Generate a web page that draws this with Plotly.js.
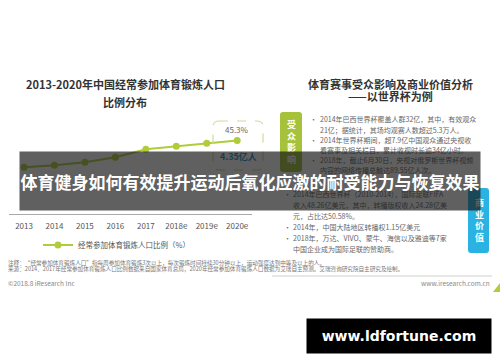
<!DOCTYPE html>
<html><head><meta charset="utf-8">
<script src="https://cdn.plot.ly/plotly-3.0.1.min.js"></script>
<style>html,body{margin:0;padding:0;background:#fff;}#chart{width:500px;height:362px;}</style>
</head><body><div id="chart"></div>
<script>
// ---- data ----
var years = ['2013','2014','2015','2016','2017','2018e','2019e','2020e'];
var ratio = [33.0, 33.9, 35.3, 37.6, 41.3, 42.7, 44.0, 45.3];
var ratioLabels = ['', '33.9%', '', '', '41.3%', '', '', '45.3%'];
var seriesName = '经常参加体育锻炼人口比例（%）';
var leftTitle = ['2013-2020年中国经常参加体育锻炼人口', '比例分布'];
var highlightText = '4.35亿人';
var rightTitle = ['体育赛事受众影响及商业价值分析', '——以世界杯为例'];
var audienceLines = [
  ['•', '2014年巴西世界杯覆盖人群32亿，其中，有效观众'],
  ['',  '21亿；据统计，其场均观赛人数超过5.3万人。'],
  ['•', '2014年世界杯期间，超7.9亿中国观众通过央视收'],
  ['',  '看赛事及相关栏目，累计收视时长逾34亿小时。'],
  ['•', '2018年，截止6月30日，央视对俄罗斯世界杯视频'],
  ['',  '内容的网络传播总触达89.55亿人次。']
];
var businessLines = [
  ['•', '2014年巴西世界杯（2010-2014），国际足联FIFA'],
  ['',  '收入48.26亿美元，其中，转播版权收入24.28亿美'],
  ['',  '元，占比达50.58%。'],
  ['•', '2014年，中国大陆地区转播权1.15亿美元'],
  ['•', '2018年，万达、VIVO、蒙牛、海信以及雅迪等7家'],
  ['',  '中国企业成为国际足联的赞助商。']
];
var notes = [
  '注释：“经常参加体育锻炼人口”指每周参加体育锻炼3次以上，每次锻炼时间持续30分钟以上，运动强度达到中等及以上的人。',
  '来源：2014、2017年经常参加体育锻炼人口比例数据来自国家体育总局，2020年经常参加体育锻炼人口数据为艾瑞自主预测。艾瑞咨询研究院自主研究及绘制。'
];
var copyright = '©2018.8 iResearch Inc';
var siteText = 'www.iresearch.com.cn';
var boxAudience = '受众影响';
var boxBusiness = '商业价值';
var bannerTitle = '体育健身如何有效提升运动后氧化应激的耐受能力与恢复效果';
var watermark = 'www.ldfortune.com';

// ---- helpers ----
var W = 500, H = 362;
function px(x){ return x / W; }
function py(y){ return 1 - y / H; }
function rr(x0, y0, x1, y1, r){
  function p(x, y){ return px(x) + ',' + py(y); }
  return 'M' + p(x0 + r, y0) + ' L' + p(x1 - r, y0) + ' Q' + p(x1, y0) + ' ' + p(x1, y0 + r) +
    ' L' + p(x1, y1 - r) + ' Q' + p(x1, y1) + ' ' + p(x1 - r, y1) +
    ' L' + p(x0 + r, y1) + ' Q' + p(x0, y1) + ' ' + p(x0, y1 - r) +
    ' L' + p(x0, y0 + r) + ' Q' + p(x0, y0) + ' ' + p(x0 + r, y0) + ' Z';
}
var CJK = '"Noto Sans CJK SC", "Noto Sans", sans-serif';
var GREEN = '#b0cc3a';
var ann = [];
function txt(x, y, s, size, color, anchor, bold){
  ann.push({xref:'paper', yref:'paper', x:px(x), y:py(y), text: bold ? '<b>' + s + '</b>' : s,
    showarrow:false, xanchor: anchor || 'center', yanchor:'middle',
    font:{family:CJK, size:size, color:color}});
}

// left title
txt(125, 84, leftTitle[0], 11, '#333', 'center', true);
txt(125, 102, leftTitle[1], 11, '#333', 'center', true);

// data labels
for (var i = 0; i < years.length; i++){
  if (ratioLabels[i]) {
    ann.push({xref:'x', yref:'y', x:years[i], y:ratio[i], text:ratioLabels[i], showarrow:false,
      yshift:11, xanchor:'center', yanchor:'middle', font:{family:CJK, size:8, color:'#666'}});
  }
}
txt(238, 156, highlightText, 9, '#1f8fc4', 'center', true);

// right panel
txt(390, 84, rightTitle[0], 11, '#333', 'center', true);
txt(390, 96, rightTitle[1], 11, '#333', 'center', true);
txt(291, 142, boxAudience.split('').join('<br>'), 9, '#fff', 'center', true);
txt(479, 220, boxBusiness.split('').join('<br>'), 9, '#fff', 'center', true);
var gy = [119, 129.5, 140, 150, 160, 170];
audienceLines.forEach(function(l, k){
  if (l[0]) txt(308, gy[k], l[0], 7, '#666', 'left');
  txt(318, gy[k], l[1], 7, '#666', 'left');
});
var by = [194, 205, 216, 227, 238, 249];
businessLines.forEach(function(l, k){
  if (l[0]) txt(282, by[k], l[0], 7, '#666', 'left');
  txt(291, by[k], l[1], 7, '#666', 'left');
});

// notes & footer
txt(6, 263, notes[0], 5.6, '#777', 'left');
txt(6, 269, notes[1], 5.6, '#777', 'left');
txt(6, 283, copyright, 6.5, '#888', 'left');
txt(492, 283, siteText, 6.5, '#888', 'right');

// overlay banner (drawn last among annotations => on top)
ann.push({xref:'paper', yref:'paper', x:px(250), y:py(181), xanchor:'center', yanchor:'middle',
  width:460, height:58, borderpad:0, bgcolor:'rgba(20,20,20,0.68)', showarrow:false,
  text:'<b>' + bannerTitle + '</b>', font:{family:CJK, size:17, color:'#fff'}});
ann.push({xref:'paper', yref:'paper', x:px(399), y:py(336), xanchor:'center', yanchor:'middle',
  width:184, height:34, borderpad:0, bgcolor:'#000', showarrow:false,
  text:'<b>' + watermark + '</b>', font:{family:'"DejaVu Sans", sans-serif', size:14, color:'#fff'}});

var shapes = [
  {type:'path', xref:'paper', yref:'paper', path: rr(280, 112, 302, 172, 3), fillcolor:'#a6c13a', line:{width:0}, layer:'above'},
  {type:'path', xref:'paper', yref:'paper', path: rr(468, 188, 489, 253, 3), fillcolor:'#2ab3e2', line:{width:0}, layer:'above'},
  {type:'path', xref:'paper', yref:'paper', path: rr(213, 121, 263, 170, 6), fillcolor:'rgba(0,0,0,0)', line:{width:1.2, color:'#cfdc9a', dash:'dash'}, layer:'above'},
  {type:'line', xref:'paper', yref:'paper', x0:px(272), x1:px(492), y0:py(276), y1:py(276), line:{width:1, color:'#cfcfcf'}},
  {type:'path', xref:'paper', yref:'paper', path:'M' + px(500) + ',' + py(283) + ' L' + px(500) + ',' + py(292) + ' L' + px(493) + ',' + py(292) + ' Z', fillcolor:GREEN, line:{width:0}}
];

var trace = {
  type:'scatter', mode:'lines+markers', x:years, y:ratio, name:seriesName,
  line:{color:GREEN, width:2}, marker:{color:GREEN, size:7}, cliponaxis:false
};

var layout = {
  width:W, height:H, margin:{l:0, r:0, t:0, b:0},
  paper_bgcolor:'#fff', plot_bgcolor:'rgba(0,0,0,0)',
  showlegend:true,
  legend:{orientation:'h', x:px(38), y:py(245), xanchor:'left', yanchor:'middle',
    font:{family:CJK, size:7.5, color:'#555'}, bgcolor:'rgba(0,0,0,0)'},
  xaxis:{type:'category', domain:[px(8.8), px(252.4)], range:[-0.5, 7.5], showline:true,
    linecolor:'#aaa', linewidth:1, showgrid:false, zeroline:false, ticks:'', ticklabelstandoff:5,
    tickfont:{family:CJK, size:8, color:'#555'}, fixedrange:true},
  yaxis:{domain:[py(213.5), py(115)], range:[11.7, 57.05], visible:false, fixedrange:true},
  annotations: ann, shapes: shapes
};
Plotly.newPlot('chart', [trace], layout, {displayModeBar:false, staticPlot:true});
</script></body></html>
